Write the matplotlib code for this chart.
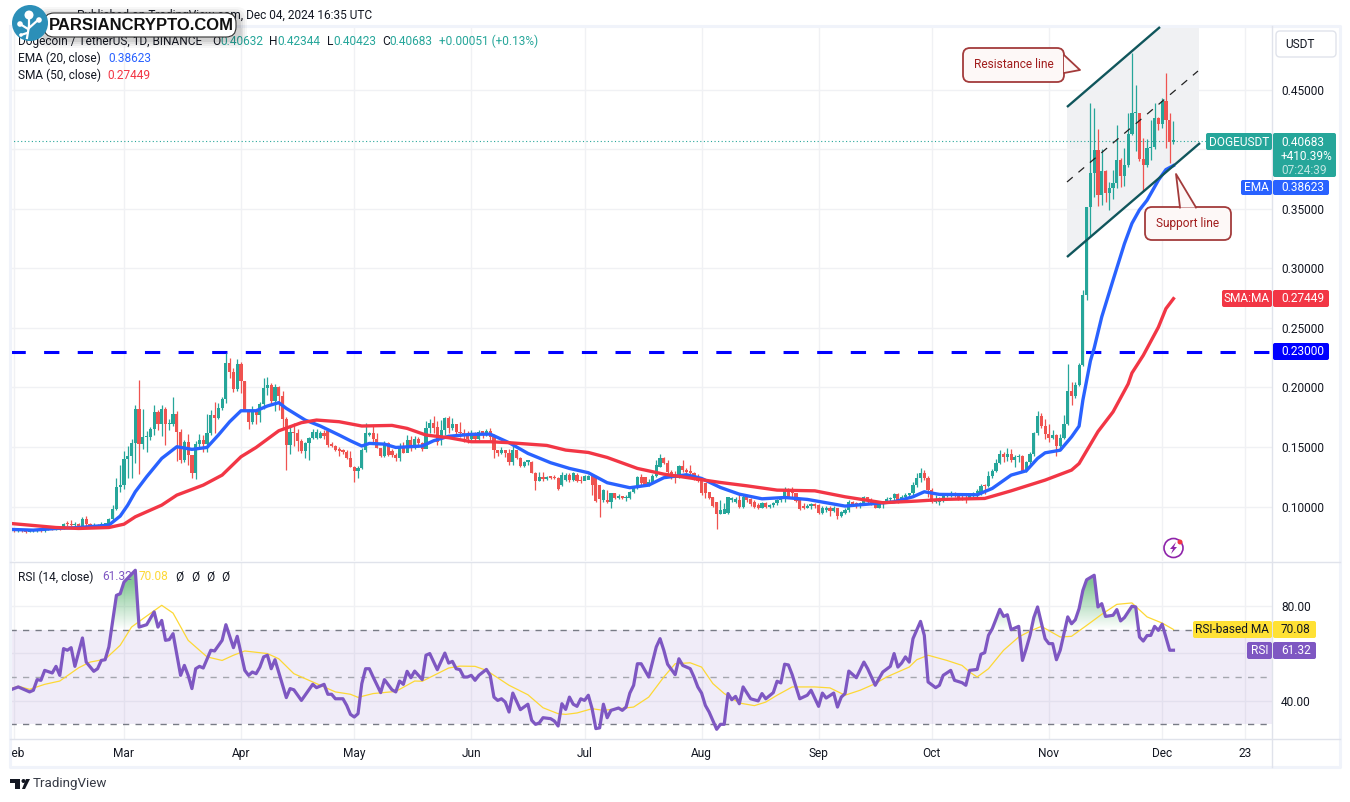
import matplotlib
matplotlib.use("Agg")
import matplotlib.pyplot as plt
import matplotlib.patches as patches
import numpy as np

plt.rcParams['font.family'] = ['Roboto', 'DejaVu Sans']

# === Candles, day 0 = 31 Jan 2024 ===
opens = [
    .0795, .0805, .0795, .0800, .0795, .0790, .0795, .0798, .0800, .0795,
    .0815, .0818, .0810, .0825, .0820, .0855, .0850, .0845, .0850, .0835,
    .0895, .0853, .0825, .0840, .0835, .0850, .0855, .0895, .0979, .1166,
    .1180, .1398, .1424, .1530, .1820, .1525, .1580, .1580, .1650, .1790,
    .1690, .1820, .1690, .1690, .1777, .1625, .1390, .1540, .1430, .1280,
    .1525, .1560, .1525, .1620, .1770, .1745, .1830, .1900, .2205, .2130,
    .1986, .2200, .2050, .1810, .1710, .1810, .1770, .1860, .1995, .2020,
    .1885, .2003, .1930, .1735, .1515, .1625, .1617, .1550, .1469, .1530,
    .1572, .1578, .1578, .1620, .1634, .1516, .1511, .1474, .1469, .1460,
    .1404, .1334, .1301, .1320, .1474, .1600, .1614, .1564, .1494, .1424,
    .1536, .1469, .1432, .1404, .1488, .1452, .1558, .1488, .1564, .1530,
    .1480, .1656, .1704, .1670, .1586, .1642, .1740, .1656, .1693, .1628,
    .1614, .1600, .1564, .1614, .1564, .1628, .1620, .1630, .1586, .1474,
    .1446, .1474, .1446, .1376, .1474, .1404, .1340, .1376,
    .1376, .1284, .1214, .1250, .1228, .1244, .1242, .1236, .1180, .1222,
    .1264, .1222, .1264, .1216, .1214, .1222, .1256, .1256, .1180, .1054,
    .1046, .1040, .1110, .1068, .1088, .1068, .1074, .1124, .1160, .1250,
    .1244, .1180, .1208, .1256, .1334, .1404, .1368, .1292, .1256, .1242,
    .1342, .1306, .1292, .1284, .1244, .1214, .1194, .1124, .1082, .1040,
    .0936, .0940, .0942, .1054, .1040, .1054, .0998, .1082, .1060, .1040,
    .1012, .0992, .1032, .0998, .1012, .1032, .1054, .1074, .1138, .1138,
    .1110, .1060, .1004, .0990, .1004, .1020, .1012, .0942, .0970, .0984,
    .0964, .0984, .0920, .0947, .0970, .1040, .1026, .1004, .1026, .1076,
    .1048, .1026, .0992, .1020, .1040, .1060, .1068, .1104, .1048, .1082,
    .1096, .1110, .1180, .1236, .1284, .1236, .1138, .1040, .1040, .1068,
    .1096, .1096, .1116, .1096, .1068, .1060, .1054, .1104, .1116, .1116,
    .1173, .1170, .1255, .1299, .1369, .1439, .1417, .1439, .1389, .1417,
    .1425, .1299, .1375, .1439, .1619, .1759, .1675, .1607, .1579, .1599,
    .1507, .1579, .1697, .1969, .1929, .2019, .2187, .2775, .3515, .3796,
    .3992, .3614, .3816, .3634, .3676, .3712, .3908, .3776, .3866, .4126,
    .4300, .4300, .3916, .3866, .4006, .4014, .4258, .4210, .4406, .4244,
    .40632,
]
closes = [
    .0805, .0795, .0800, .0795, .0790, .0795, .0798, .0800, .0795, .0815,
    .0818, .0810, .0825, .0820, .0855, .0850, .0845, .0850, .0835, .0895,
    .0853, .0825, .0840, .0835, .0850, .0855, .0895, .0979, .1166, .1180,
    .1398, .1424, .1530, .1820, .1525, .1580, .1580, .1650, .1790, .1690,
    .1820, .1690, .1690, .1777, .1625, .1390, .1540, .1430, .1280, .1525,
    .1560, .1525, .1620, .1770, .1745, .1830, .1900, .2205, .2130, .1986,
    .2200, .2050, .1810, .1710, .1810, .1770, .1860, .1995, .2020, .1885,
    .2003, .1930, .1735, .1515, .1625, .1617, .1550, .1469, .1530, .1572,
    .1628, .1628, .1620, .1595, .1516, .1511, .1474, .1469, .1460, .1404,
    .1334, .1301, .1320, .1474, .1614, .1614, .1564, .1494, .1424, .1536,
    .1432, .1432, .1404, .1488, .1452, .1558, .1488, .1564, .1530, .1480,
    .1656, .1704, .1656, .1544, .1642, .1740, .1656, .1693, .1628, .1614,
    .1600, .1564, .1614, .1564, .1628, .1620, .1630, .1586, .1474, .1446,
    .1474, .1446, .1376, .1474, .1404, .1340, .1376, .1376,
    .1284, .1214, .1250, .1228, .1244, .1242, .1236, .1144, .1264, .1264,
    .1222, .1284, .1216, .1214, .1256, .1256, .1180, .1046, .1060, .1138,
    .1040, .1110, .1068, .1088, .1068, .1074, .1124, .1152, .1250, .1194,
    .1180, .1208, .1256, .1348, .1404, .1368, .1292, .1256, .1242, .1342,
    .1306, .1292, .1284, .1244, .1214, .1110, .1110, .1074, .1006, .0936,
    .0970, .0976, .1076, .1074, .1062, .0998, .1082, .1054, .1020, .0998,
    .0992, .1032, .0998, .1012, .1032, .1054, .1074, .1144, .1076, .1110,
    .1048, .0976, .0990, .1004, .1020, .1004, .0942, .0992, .0992, .0964,
    .0992, .0920, .0956, .0970, .1040, .1020, .1004, .1026, .1076, .1048,
    .1026, .0992, .1020, .1040, .1060, .1068, .1104, .1048, .1082, .1096,
    .1110, .1180, .1236, .1284, .1236, .1138, .1040, .1040, .1068, .1096,
    .1096, .1116, .1096, .1068, .1060, .1054, .1104, .1116, .1116, .1173,
    .1170, .1255, .1299, .1369, .1439, .1417, .1439, .1389, .1417, .1425,
    .1299, .1375, .1439, .1619, .1759, .1675, .1607, .1579, .1599, .1507,
    .1579, .1697, .1969, .1929, .2019, .2187, .2775, .3515, .3796, .3992,
    .3614, .3816, .3634, .3676, .3712, .3908, .3776, .3866, .4126, .4300,
    .4300, .3916, .3866, .4006, .4014, .4258, .4210, .4406, .4244, .4062,
    .40683,
]
highs = [
    .0815, .0810, .0805, .0805, .0800, .0800, .0805, .0810, .0805, .0820,
    .0830, .0825, .0835, .0830, .0865, .0880, .0885, .0870, .0860, .0914,
    .0920, .0865, .0860, .0855, .0870, .0865, .0900, .1012, .1240, .1348,
    .1470, .1510, .1566, .1850, .2060, .1820, .1630, .1670, .1850, .1810,
    .1850, .1835, .1735, .1920, .1800, .1650, .1560, .1610, .1400, .1550,
    .1610, .1600, .1780, .1810, .1880, .1870, .1920, .2290, .2250, .2160,
    .2240, .2210, .2050, .1820, .1840, .1820, .1880, .2080, .2090, .2035,
    .2030, .2015, .1970, .1750, .1675, .1700, .1655, .1570, .1545, .1585,
    .1655, .1655, .1635, .1642, .1648, .1545, .1515, .1497, .1480, .1475,
    .1470, .1340, .1340, .1490, .1698, .1627, .1684, .1615, .1495, .1548,
    .1545, .1480, .1450, .1535, .1545, .1600, .1590, .1590, .1580, .1540,
    .1720, .1732, .1760, .1720, .1730, .1750, .1758, .1745, .1695, .1708,
    .1650, .1630, .1640, .1625, .1645, .1625, .1650, .1660, .1605, .1475,
    .1500, .1474, .1480, .1540, .1470, .1420, .1385, .1390,
    .1382, .1292, .1292, .1292, .1256, .1256, .1264, .1244, .1292, .1284,
    .1284, .1292, .1284, .1256, .1264, .1261, .1256, .1194, .1110, .1144,
    .1138, .1116, .1110, .1102, .1088, .1096, .1132, .1166, .1256, .1272,
    .1244, .1228, .1272, .1390, .1438, .1418, .1390, .1306, .1300, .1348,
    .1390, .1320, .1348, .1292, .1272, .1222, .1194, .1124, .1082, .1040,
    .1054, .1032, .1082, .1082, .1082, .1110, .1096, .1096, .1068, .1054,
    .1026, .1040, .1040, .1020, .1040, .1060, .1082, .1160, .1152, .1160,
    .1110, .1068, .1026, .1020, .1032, .1032, .1020, .1004, .1004, .1004,
    .1004, .0992, .0964, .0984, .1054, .1048, .1040, .1040, .1088, .1076,
    .1068, .1054, .1040, .1048, .1076, .1082, .1110, .1110, .1096, .1110,
    .1116, .1208, .1284, .1320, .1306, .1256, .1152, .1096, .1076, .1104,
    .1116, .1132, .1124, .1110, .1100, .1110, .1116, .1124, .1144, .1193,
    .1193, .1299, .1311, .1403, .1473, .1459, .1495, .1487, .1431, .1445,
    .1431, .1383, .1459, .1627, .1803, .1787, .1733, .1697, .1641, .1605,
    .1605, .1767, .2195, .2047, .2047, .2207, .2817, .3515, .4390, .4342,
    .4166, .4000, .3824, .3726, .3824, .4202, .3922, .4006, .4300, .4803,
    .4538, .4300, .4090, .4082, .4244, .4384, .4272, .4426, .4636, .4300,
    .42344,
]
lows = [
    .0790, .0785, .0785, .0785, .0780, .0785, .0785, .0790, .0785, .0790,
    .0800, .0800, .0805, .0805, .0815, .0840, .0838, .0840, .0830, .0830,
    .0820, .0820, .0820, .0825, .0830, .0840, .0845, .0880, .0970, .1120,
    .1150, .1240, .1242, .1365, .1270, .1480, .1460, .1560, .1600, .1645,
    .1595, .1520, .1645, .1680, .1385, .1365, .1370, .1350, .1240, .1230,
    .1500, .1460, .1460, .1600, .1620, .1735, .1810, .1870, .2080, .1963,
    .1970, .1950, .1800, .1650, .1690, .1690, .1710, .1820, .1940, .1860,
    .1800, .1810, .1660, .1306, .1445, .1505, .1470, .1452, .1405, .1390,
    .1565, .1565, .1575, .1565, .1500, .1500, .1470, .1424, .1440, .1396,
    .1334, .1208, .1240, .1315, .1460, .1590, .1545, .1490, .1420, .1420,
    .1425, .1420, .1380, .1385, .1450, .1455, .1470, .1480, .1500, .1465,
    .1488, .1620, .1620, .1515, .1520, .1600, .1620, .1640, .1600, .1580,
    .1545, .1530, .1555, .1545, .1560, .1575, .1590, .1555, .1404, .1425,
    .1440, .1420, .1350, .1345, .1400, .1330, .1335, .1350,
    .1284, .1138, .1214, .1214, .1222, .1228, .1228, .1138, .1172, .1216,
    .1208, .1216, .1208, .1200, .1222, .1228, .1096, .1040, .0914, .1040,
    .1034, .0990, .1060, .1060, .1060, .1048, .1060, .1116, .1144, .1180,
    .1172, .1172, .1194, .1250, .1334, .1356, .1278, .1228, .1200, .1236,
    .1292, .1284, .1272, .1222, .1208, .1096, .1068, .1060, .0998, .0810,
    .0936, .0956, .0936, .1040, .1026, .0992, .0992, .1040, .1004, .0992,
    .0976, .0992, .0992, .0990, .0998, .1012, .1040, .1040, .1068, .1068,
    .1036, .0970, .0976, .0984, .0976, .0984, .0936, .0936, .0956, .0922,
    .0956, .0894, .0914, .0940, .0956, .1004, .0990, .0990, .1012, .1032,
    .1012, .0984, .0992, .0992, .1026, .1026, .1040, .1032, .1040, .1065,
    .1070, .1076, .1166, .1208, .1222, .1082, .1026, .1032, .1012, .1040,
    .1082, .1082, .1082, .1055, .1055, .1032, .1060, .1076, .1082, .1100,
    .1109, .1165, .1243, .1291, .1361, .1375, .1383, .1375, .1333, .1375,
    .1291, .1291, .1355, .1423, .1599, .1663, .1571, .1543, .1563, .1425,
    .1495, .1570, .1683, .1851, .1915, .2011, .2179, .2733, .3263, .3600,
    .3522, .3530, .3558, .3488, .3578, .3670, .3684, .3690, .3850, .4118,
    .3986, .3900, .3648, .3850, .3908, .4000, .4160, .4180, .4006, .3886,
    .40423,
]

ema_days = [0, 6, 12, 18, 26, 29, 31, 33, 36, 40, 44, 48, 52, 55, 58, 61, 65, 68, 71, 73, 78, 82, 87, 90, 93, 95, 99,
            102, 109, 112, 116, 122, 127, 132, 137, 143, 148, 153, 158, 164, 169, 173, 179, 183, 188, 193, 199, 205,
            211, 216, 221, 227, 234, 239, 242, 246, 256, 260, 265, 269, 272, 274, 278, 281, 283, 284, 286, 287, 289,
            292, 295, 297, 299, 301, 304, 306, 308]
ema_vals = [.0808, .0802, .0816, .0824, .0844, .0920, .1012, .1124, .1250, .1404, .1502, .1480, .1496, .1600, .1712,
            .1804, .1804, .1844, .1872, .1824, .1726, .1676, .1600, .1552, .1508, .1530, .1524, .1496, .1508, .1552,
            .1590, .1606, .1608, .1536, .1446, .1368, .1320, .1284, .1200, .1158, .1180, .1242, .1267, .1236, .1160,
            .1104, .1065, .1076, .1060, .1032, .1004, .1020, .1040, .1082, .1124, .1102, .1099, .1152, .1264, .1300,
            .1404, .1451, .1473, .1585, .1675, .1893, .2223, .2330, .2592, .2901, .3205, .3377, .3490, .3571, .3739,
            .3828, .38623]
sma_days = [0, 6, 12, 18, 26, 30, 33, 40, 44, 51, 56, 61, 65, 71, 77, 81, 87, 93, 101, 105, 110, 116, 122, 127, 132, 142,
            147, 153, 158, 166, 173, 179, 188, 195, 203, 213, 221, 231, 240, 247, 258, 265, 274, 281, 283, 288, 292,
            296, 297, 300, 304, 306, 308]
sma_vals = [.0858, .0841, .0824, .0816, .0824, .0852, .0914, .1012, .1096, .1180, .1264, .1418, .1496, .1636, .1704,
            .1726, .1712, .1676, .1681, .1656, .1600, .1578, .1544, .1544, .1536, .1513, .1474, .1454, .1412, .1320,
            .1272, .1244, .1202, .1174, .1138, .1132, .1082, .1032, .1046, .1060, .1068, .1132, .1222, .1306, .1361,
            .1629, .1795, .2029, .2121, .2269, .2505, .2661, .27449]

# === RSI and its average ===
rsi_days = [0, 2, 5, 6, 7, 8, 9, 11, 12, 13, 14, 15, 16, 17, 19, 20, 22, 23, 24, 25, 26, 28, 29, 30, 33, 34, 36, 38,
            39, 40, 41, 42, 43, 45, 46, 47, 48, 49, 50, 51, 53, 54, 56, 57, 59, 60, 62, 63, 64, 65, 66, 67, 68, 69,
            70, 73, 74, 75, 77, 80, 81, 83, 84, 85, 86, 88, 89, 90, 91, 92, 93, 94, 95, 96, 98, 99, 101, 102, 103,
            104, 105, 106, 107, 109, 110, 111, 113, 115,
            116, 117, 118, 119, 120, 121, 122, 123, 124, 126, 127, 128, 129, 130, 131, 132, 133, 135, 137, 138, 139,
            140, 141, 143, 144, 145, 146, 147, 148, 149, 150, 151, 152, 153, 154, 155, 156, 157, 158, 159, 161, 162,
            163, 164, 165, 166, 167, 169, 171, 172, 173, 174, 176, 177, 178, 180, 181, 182, 183, 184, 185, 187, 188,
            189, 190, 191, 192, 193, 194, 196, 198, 199, 200, 202, 203, 204, 205, 206, 207, 209, 211, 212, 214, 215,
            216, 218, 219, 220, 221, 222, 224, 226, 227, 229, 231, 233, 234, 235,
            236, 237, 238, 239, 241, 242, 243, 245, 246, 247, 249, 250, 252, 253, 254, 256, 257, 258, 259, 260, 262,
            263, 264, 265, 267, 268, 269, 270, 271, 272, 274, 275, 276, 277, 278, 280, 281, 282, 283, 284, 285, 287,
            288, 289, 290, 292, 293, 294, 295, 297, 298, 299, 300, 301, 302, 303, 304, 305, 307, 308]
rsi_vals = [44.6, 45.8, 43.7, 44.4, 48.9, 48.6, 52.8, 51.7, 54.5, 50.7, 62, 61.3, 62.4, 54.5, 66.5, 56.3, 52.4, 53.5,
            57, 57.3, 62.7, 84.5, 85.2, 90.1, 95.1, 71.1, 72.1, 77.5, 71.1, 73.9, 65.5, 65.8, 68.3, 50.7, 54.9, 50.7,
            45.1, 53.5, 54.5, 53.8, 61.3, 61, 65.5, 72.1, 62.4, 67.2, 52.8, 50.7, 52.1, 51.4, 54.2, 58.5, 59.2, 53.5,
            57.3, 41.3, 45.1, 44.6, 40.1, 46.9, 45.5, 46.9, 42.7, 42.7, 40.8, 40.8, 38, 34.2, 33.1, 34.5, 47.2, 53.5,
            53.5, 50, 43.4, 48.9, 44.6, 43.7, 48.3, 46.9, 52.4, 49.7, 52.5, 48.9, 59.2, 59.9, 53.1, 60.1,
            55.9, 56.6, 53.5, 53.1, 50, 50, 50.7, 48.6, 50.7, 53.2, 50.7, 41.5, 40.1, 40.8, 39.4, 35.2, 43.2, 36.2,
            38.5, 31.7, 30, 30.6, 32.8, 32.4, 31.4, 29.3, 38.7, 36.3, 41.5, 38.5, 37.6, 40.8, 40.1, 42.3, 36.6, 28.2,
            28.5, 38.5, 32.8, 35.9, 36.9, 35.9, 37.3, 43.2, 46.5, 55.6, 55.6, 50, 62.7, 66.2, 61.3, 55.4, 51, 57.7,
            54.9, 53.5, 50, 45.8, 43.2, 38, 35.2, 27.9, 30, 30, 43, 40.4, 41.8, 38.7, 45.8, 40.8, 39.9, 43, 40.8,
            43.4, 48.2, 47.5, 55.4, 55.1, 51, 40.8, 42.3, 44.4, 37.6, 43.2, 41.1, 43.2, 37.3, 41.5, 43, 52.5, 49.7,
            56.3, 53.5, 46.5, 52.1, 54.5, 59.9, 54.2,
            55.9, 58.5, 56.3, 66.2, 73.5, 67.6, 47.9, 45.5, 46.5, 50.7, 52.8, 48.6, 47.6, 46.5, 52.8, 53.2, 59.6,
            60.3, 67.6, 70.4, 78.6, 75.6, 76.3, 70, 71.4, 57, 62, 67.6, 75.1, 79.6, 66.2, 64.1, 64.1, 57.3, 61.3,
            75.4, 72.5, 74.2, 78.9, 86.6, 91.1, 93, 79.6, 81, 75.6, 76.1, 78.5, 73.7, 75.1, 79.9, 79.6, 66.9, 65.2,
            67.5, 67.6, 71.4, 69.7, 72.3, 61.3, 61.32]
rsi_ma_days = [0, 2, 5, 9, 13, 18, 21, 25, 29, 32, 35, 40, 43, 47, 52, 56, 59, 62, 68, 71, 75, 82, 86, 90, 92, 96, 102,
               107, 109, 116, 119, 123, 126, 128, 132, 137, 141, 145, 147, 150, 154, 157, 161, 165, 169, 173, 176, 180,
               183, 186, 189, 193, 197, 200, 203, 207, 213, 217, 221, 225, 229, 232, 236, 238, 240, 243, 248, 252, 254,
               256, 259, 263, 267, 270, 273, 278, 281, 285, 289, 293, 297, 301, 305, 308]
rsi_ma_vals = [45.1, 46.1, 44.8, 46.9, 48.3, 53.9, 56.3, 57.5, 63.4, 71.1, 74.6, 80.3, 77, 65.5, 58.5, 57, 59.2, 61,
               59.9, 57.7, 51.4, 46.5, 43.7, 42.7, 41.4, 43, 43.9, 48.3, 48.2, 53.8, 54.6, 54.5, 52.8, 50.7, 46.5, 42.5,
               37, 34.5, 34.2, 34.8, 36.6, 35.9, 36.6, 37.3, 41.5, 50, 55.6, 56, 54.2, 47.2, 43, 39, 37.9, 39.4, 42.3,
               45.8, 45.8, 45.4, 42.3, 44.4, 47.2, 50, 52.8, 54.2, 57.3, 59.2, 57, 54.9, 52.1, 50, 53.5, 61.3, 66.9,
               69.4, 71.4, 66.9, 67.2, 71.8, 76.5, 80.7, 81.3, 75.4, 72.8, 70.08]

# === Axis labels ===
price_ticks = [0.10, 0.15, 0.20, 0.25, 0.30, 0.35, 0.40, 0.45]
price_labels = ['0.10000', '0.15000', '0.20000', '0.25000', '0.30000', '0.35000', '', '0.45000']
date_ticks = [1, 30, 61, 91, 122, 152, 183, 214, 244, 275, 305, 327]
date_labels = ['Feb', 'Mar', 'Apr', 'May', 'Jun', 'Jul', 'Aug', 'Sep', 'Oct', 'Nov', 'Dec', '23']
rsi_ticks = [40, 60, 80]
rsi_tick_labels = ['40.00', '', '80.00']

# === Colours ===
UP = '#26a69a'
DOWN = '#ef5350'
EMA_C = '#2962ff'
SMA_C = '#f23645'
RSI_C = '#7e57c2'
GRID = '#f0f1f4'
BORDER = '#e0e3eb'
INK = '#131722'
CALLOUT = '#a33b3b'

W, H = 1350, 802
LEFT, RIGHT = 10, 1272


def pane(top, bottom):
    return [LEFT / W, 1 - bottom / H, (RIGHT - LEFT) / W, (bottom - top) / H]


fig = plt.figure(figsize=(W / 100, H / 100), dpi=100, facecolor='white')

# pixel space layers for drawings and price tags
bg = fig.add_axes([0, 0, 1, 1], zorder=0)
fg = fig.add_axes([0, 0, 1, 1], zorder=5)
for layer in (bg, fg):
    layer.set_xlim(0, W)
    layer.set_ylim(H, 0)
    layer.axis('off')
    layer.patch.set_visible(False)

ax = fig.add_axes(pane(27, 561), zorder=1)
ax_rsi = fig.add_axes(pane(562, 739), zorder=1)

# === Price pane ===
ax.patch.set_visible(False)
ax.set_xlim(-0.19, 334.1)
ax.set_ylim(0.0543, 0.5025)
days = np.arange(len(closes))
o = np.array(opens)
c = np.array(closes)
colors = [UP if cl >= op else DOWN for op, cl in zip(o, c)]
ax.vlines(days, lows, highs, colors=colors, linewidth=0.9, zorder=3)
body = np.maximum(np.abs(c - o), 0.0011)
ax.bar(days, body, bottom=np.minimum(o, c), width=0.84, color=colors, linewidth=0, zorder=3)
ax.plot(ema_days, ema_vals, color=EMA_C, lw=2.4, zorder=4, solid_joinstyle='round')
ax.plot(sma_days, sma_vals, color=SMA_C, lw=2.4, zorder=4, solid_joinstyle='round')
ax.axhline(closes[-1], color=UP, lw=0.8, ls=(0, (1, 2.2)), zorder=2)
ax.axhline(0.23, color='#0000ff', lw=2.2, ls=(0, (5, 6)), dash_capstyle='butt', zorder=2)

ax.set_yticks(price_ticks, price_labels)
ax.set_xticks(date_ticks)
ax.tick_params(axis='x', length=0, labelbottom=False)
ax.yaxis.tick_right()
ax.tick_params(axis='y', length=0, pad=6.5, labelsize=8.6, labelcolor=INK)
ax.grid(True, color=GRID, lw=1)
ax.set_axisbelow(True)
for spine in ax.spines.values():
    spine.set_visible(False)

# === RSI pane ===
ax_rsi.patch.set_visible(False)
ax_rsi.set_xlim(-0.19, 334.1)
ax_rsi.set_ylim(23.8, 98.6)
ax_rsi.axhspan(30, 70, color=RSI_C, alpha=0.11, lw=0, zorder=1)
ax_rsi.axhline(70, color='#787b86', lw=1, ls=(0, (4.5, 4.5)), zorder=2)
ax_rsi.axhline(50, color='#a5a7af', lw=1, ls=(0, (4.5, 4.5)), zorder=2)
ax_rsi.axhline(30, color='#787b86', lw=1, ls=(0, (4.5, 4.5)), zorder=2)

# green shade where RSI runs above 70
fine_x = np.linspace(0, 308, 3000)
fine_y = np.interp(fine_x, rsi_days, rsi_vals)
shade = ax_rsi.fill_between(fine_x, 70, np.maximum(fine_y, 70), color='none', lw=0)
ramp = np.zeros((64, 1, 4))
ramp[:, 0, :3] = matplotlib.colors.to_rgb('#3aa655')
ramp[:, 0, 3] = np.linspace(0, 0.62, 64)
im = ax_rsi.imshow(ramp, extent=(0, 308, 70, 90), origin='lower', aspect='auto', zorder=2)
im.set_clip_path(shade.get_paths()[0], transform=ax_rsi.transData)
top_ramp = np.zeros((2, 1, 4))
top_ramp[:, 0, :3] = matplotlib.colors.to_rgb('#3aa655')
top_ramp[:, 0, 3] = 0.62
im2 = ax_rsi.imshow(top_ramp, extent=(0, 308, 90, 98), origin='lower', aspect='auto', zorder=2)
im2.set_clip_path(shade.get_paths()[0], transform=ax_rsi.transData)
ax_rsi.set_xlim(-0.19, 334.1)
ax_rsi.set_ylim(23.8, 98.6)

ax_rsi.plot(rsi_ma_days, rsi_ma_vals, color='#fdd835', lw=0.9, zorder=3)
ax_rsi.plot(rsi_days, rsi_vals, color=RSI_C, lw=2.3, zorder=4, solid_joinstyle='round')

ax_rsi.set_yticks(rsi_ticks, rsi_tick_labels)
ax_rsi.yaxis.tick_right()
ax_rsi.tick_params(axis='y', length=0, pad=6.5, labelsize=8.6, labelcolor=INK)
ax_rsi.set_xticks(date_ticks, date_labels)
ax_rsi.tick_params(axis='x', length=0, pad=6, labelsize=8.6, labelcolor=INK)
ax_rsi.grid(True, color=GRID, lw=1)
ax_rsi.set_axisbelow(True)
for spine in ax_rsi.spines.values():
    spine.set_visible(False)
feb_label = ax_rsi.get_xticklabels()[0]
feb_label.set_clip_on(True)
feb_label.set_clip_path(patches.Rectangle((LEFT, 0), 200, H, transform=fg.transData))

# === Frame lines ===
fg.plot([LEFT, 1340, 1340, LEFT, LEFT], [26, 26, 767, 767, 26], color='#f0f3fa', lw=2.2, zorder=1)
fg.plot([LEFT, RIGHT + 68], [561.5, 561.5], color=BORDER, lw=1, zorder=1)
fg.plot([LEFT, 1340], [739, 739], color=BORDER, lw=1, zorder=1)
fg.plot([RIGHT, RIGHT], [26, 767], color=BORDER, lw=1, zorder=1)

# === Channel drawing ===
bg.add_patch(patches.Polygon([(1067, 107), (1160, 27), (1199, 27), (1199, 143), (1067, 257)],
                             closed=True, facecolor='#f0f1f3', edgecolor='none'))
fg.plot([1067, 1160], [107, 27], color='#10565c', lw=1.7, solid_capstyle='butt', zorder=2)
fg.plot([1067, 1200], [257, 143], color='#10565c', lw=1.7, solid_capstyle='butt', zorder=2)
fg.plot([1067, 1198], [182, 71], color='#222222', lw=0.9, ls=(0, (6, 6)), zorder=2)


def callout(x0, y0, x1, y1, wedge, label):
    fg.add_patch(patches.FancyBboxPatch((x0 + 5, y0 + 5), x1 - x0 - 10, y1 - y0 - 10, boxstyle='round,pad=5,rounding_size=7',
                                        facecolor='#fdf8f7', edgecolor=CALLOUT, lw=1.3, zorder=6))
    fg.add_patch(patches.Polygon(wedge, closed=True, facecolor='#fdf8f7', edgecolor='none', zorder=7))
    fg.plot([wedge[0][0], wedge[1][0], wedge[2][0]], [wedge[0][1], wedge[1][1], wedge[2][1]],
            color=CALLOUT, lw=1.3, zorder=8)
    fg.text((x0 + x1) / 2, (y0 + y1) / 2, label, color='#a11d1d', fontsize=8.6, ha='center', va='center', zorder=9)


callout(963, 48, 1064, 82, [(1064, 55), (1080, 70), (1064, 73)], 'Resistance line')
callout(1145, 207, 1231, 240, [(1180, 207.5), (1176, 174), (1196, 207.5)], 'Support line')


# === Price tags ===
def tag(x0, x1, y0, y1, color):
    fg.add_patch(patches.FancyBboxPatch((x0 + 2, y0 + 2), x1 - x0 - 4, y1 - y0 - 4, boxstyle='round,pad=2,rounding_size=2',
                                        facecolor=color, edgecolor='none', zorder=6))


def label(x, y, s, color=INK, size=8.6, ha='left', weight='normal', z=9):
    return fg.text(x, y, s, color=color, fontsize=size, ha=ha, va='center', fontweight=weight, zorder=z)


tag(1206, 1272, 133, 150, UP)
tag(1273, 1336, 133, 177, UP)
label(1239, 142, 'DOGEUSDT', 'white', ha='center')
label(1281, 142, '0.40683', 'white')
label(1281, 156, '+410.39%', 'white')
label(1281, 170, '07:24:39', '#bfe5e1')

tag(1241, 1272, 180, 195, EMA_C)
tag(1273, 1329, 180, 195, EMA_C)
label(1256, 187.5, 'EMA', 'white', ha='center')
label(1281, 187.5, '0.38623', 'white')

tag(1222, 1272, 290, 307, SMA_C)
tag(1273, 1329, 290, 307, SMA_C)
label(1247, 298.5, 'SMA:MA', 'white', ha='center')
label(1281, 298.5, '0.27449', 'white')

tag(1273, 1329, 343, 360, '#0000ff')
label(1281, 351.5, '0.23000', 'white')

tag(1193, 1272, 621, 638, '#ffe135')
tag(1273, 1316, 621, 638, '#ffe135')
label(1232, 629.5, 'RSI-based MA', INK, ha='center')
label(1281, 629.5, '70.08', INK)

tag(1247, 1272, 642, 659, RSI_C)
tag(1273, 1316, 642, 659, RSI_C)
label(1260, 650.5, 'RSI', 'white', ha='center')
label(1281, 650.5, '61.32', 'white')

fg.add_patch(patches.FancyBboxPatch((1279, 34), 54, 20, boxstyle='round,pad=3,rounding_size=4',
                                    facecolor='white', edgecolor=BORDER, lw=1, zorder=6))
label(1285, 44, 'USDT')

# === Legend texts ===
label(372, 15, 'Published on TradingView.com, Dec 04, 2024 16:35 UTC', INK, ha='right', z=3)
label(18, 41.5, 'Dogecoin / TetherUS, 1D, BINANCE', INK, z=3)
for x, s in [(212, 'O'), (269, 'H'), (327, 'L'), (382, 'C')]:
    label(x, 41.5, s, INK, z=3)
for x, s in [(220, '0.40632'), (277, '0.42344'), (333, '0.40423'), (389, '0.40683'), (439, '+0.00051 (+0.13%)')]:
    label(x, 41.5, s, UP, z=3)
label(18, 58.5, 'EMA (20, close)', INK)
label(108, 58.5, '0.38623', EMA_C)
label(18, 75.5, 'SMA (50, close)', INK)
label(107, 75.5, '0.27449', SMA_C)
label(18, 577, 'RSI (14, close)', INK)
label(102, 577, '61.32', RSI_C, z=3)
label(139, 577, '70.08', '#fdd835', z=3)
for x in (175, 191, 206, 221):
    label(x, 577, 'Ø', INK)

# === Logo badge ===
for grow, alpha in [(8, 0.03), (6, 0.04), (4, 0.05), (2, 0.07)]:
    fg.add_patch(patches.FancyBboxPatch((47 - grow, 16 - grow + 2), 189 + 2 * grow, 19 + 2 * grow,
                                        boxstyle='round,pad=3,rounding_size=10', facecolor='black',
                                        edgecolor='none', alpha=alpha, zorder=10))
fg.add_patch(patches.FancyBboxPatch((47, 16), 186, 18, boxstyle='round,pad=3,rounding_size=10',
                                    facecolor='white', edgecolor='#333333', lw=0.8, zorder=11))
fg.text(49, 25.5, 'PARSIANCRYPTO.COM', color='#111111', fontsize=12, fontweight='bold', family='Liberation Sans',
        ha='left', va='center', zorder=12)
fg.add_patch(patches.Circle((30, 23), 18, facecolor='#2c8fb8', edgecolor='none', zorder=12))
for x0, y0, x1, y1 in [(27, 38, 29, 26), (29, 26, 29, 15), (29, 28, 38, 20), (28, 29, 20, 24), (27, 33, 21, 35)]:
    fg.plot([x0, x1], [y0, y1], color='white', lw=1.6, zorder=13)
for x, y, r in [(29, 15, 4.5), (39, 20, 2.8), (20, 24, 2.8), (21, 35, 1.8)]:
    fg.add_patch(patches.Circle((x, y), r, facecolor='white', edgecolor='none', zorder=13))

# === Flash icon ===
fg.add_patch(patches.Circle((1173.5, 548), 9.5, facecolor='white', edgecolor='#8e24aa', lw=1.2, zorder=6))
fg.add_patch(patches.Polygon([(1176, 542), (1170, 549), (1173, 549), (1171, 554), (1177, 547), (1174, 547)],
                             closed=True, facecolor='#8e24aa', edgecolor='none', zorder=7))
fg.add_patch(patches.Circle((1180, 542), 2.5, facecolor='#f23645', edgecolor='none', zorder=8))

# === TradingView mark ===
fg.add_patch(patches.Polygon([(10, 779), (20, 779), (20, 789), (15, 789), (15, 783), (10, 783)],
                             closed=True, facecolor=INK, edgecolor='none'))
fg.add_patch(patches.Circle((23.5, 781), 2, facecolor=INK, edgecolor='none'))
fg.add_patch(patches.Polygon([(25, 789), (22, 789), (26, 779), (30, 779)], closed=True, facecolor=INK, edgecolor='none'))
fg.text(33, 784, 'TradingView', color='#363a45', fontsize=9.6, ha='left', va='center')

assert len(opens) == len(closes) == len(highs) == len(lows)
fig.savefig('out.png', dpi=100)
